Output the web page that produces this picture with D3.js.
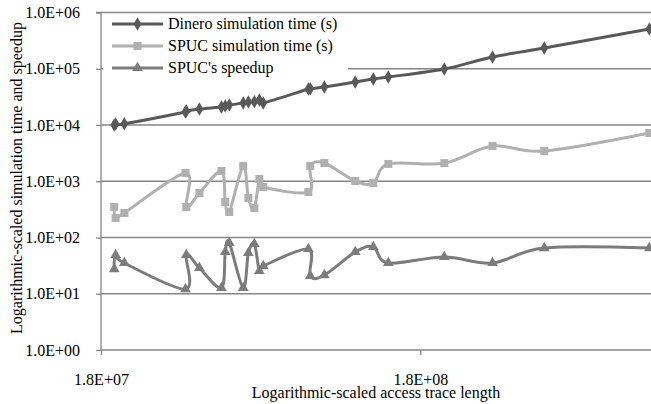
<!DOCTYPE html>
<html><head><meta charset="utf-8">
<script src="https://cdn.jsdelivr.net/npm/d3@7/dist/d3.min.js"></script>
<style>body{margin:0;background:#fff;} svg{display:block;}</style>
</head><body>
<svg id="c" width="651" height="404"></svg>
<script>
// Access trace length (x)
const traceLength = [1.98e7, 2.0e7, 2.13e7, 3.31e7, 3.33e7, 3.66e7, 4.29e7, 4.41e7, 4.54e7, 5.02e7, 5.21e7, 5.44e7,
  5.64e7, 5.80e7, 8.03e7, 8.14e7, 9.01e7, 1.126e8, 1.283e8, 1.429e8, 2.14e8, 3.03e8, 4.40e8, 9.39e8];
// Dinero simulation time (s)
const dineroTime = [10000, 10400, 10500, 17000, 17700, 19200, 20900, 21800, 22700, 24600, 25600, 26000,
  27800, 24600, 43600, 44000, 47400, 58100, 65700, 71300, 99000, 162000, 234000, 509000];
// SPUC simulation time (s)
const spucTime = [349, 222, 273, 1400, 349, 618, 1520, 428, 284, 1870, 504, 334,
  1100, 790, 644, 1870, 2110, 1010, 931, 2030, 2100, 4230, 3450, 7210];
// SPUC's speedup
const spucSpeedup = [27.5, 48.9, 35.2, 12.1, 48.9, 28.7, 12.7, 55.2, 79.8, 12.7, 53, 76.6,
  25.4, 31.1, 62.5, 20.7, 21.5, 55.2, 67.8, 35.2, 45, 35.2, 65, 65];

const yTicks = [1, 10, 100, 1000, 10000, 100000, 1000000];
const yTickLabels = ["1.0E+00", "1.0E+01", "1.0E+02", "1.0E+03", "1.0E+04", "1.0E+05", "1.0E+06"];
const xTicks = [1.8e7, 1.8e8];
const xTickLabels = ["1.8E+07", "1.8E+08"];
const seriesNames = ["Dinero simulation time (s)", "SPUC simulation time (s)", "SPUC's speedup"];

const svg = d3.select("#c");
const font = "'Liberation Serif','Times New Roman',serif";
const L = 101, R = 739.6, T = 12.5, B = 350;
const x = d3.scaleLog().domain([1.8e7, 1.8e9]).range([L, R]);
const y = d3.scaleLog().domain([1, 1e6]).range([B, T]);
const grid = "#868686";

// gridlines
svg.append("g").selectAll("line").data(yTicks.slice(1)).join("line")
  .attr("x1", L).attr("x2", R).attr("y1", d => y(d)).attr("y2", d => y(d))
  .attr("stroke", grid).attr("stroke-width", 1.3);

// y axis
const yAxis = d3.axisLeft(y).tickValues(yTicks).tickSize(5).tickFormat((d, i) => yTickLabels[i]);
const gy = svg.append("g").attr("transform", `translate(${L},0)`).call(yAxis);
gy.select(".domain").attr("stroke", grid).attr("stroke-width", 1.3).attr("d", `M-5,${T}H0V${B}`);
gy.selectAll(".tick line").attr("stroke", grid).attr("stroke-width", 1.3);
gy.selectAll(".tick text").attr("x", -21).attr("font-family", font).attr("font-size", 16).attr("fill", "#000");

// x axis
const xAxis = d3.axisBottom(x).tickValues(xTicks).tickSize(5).tickFormat((d, i) => xTickLabels[i]);
const gx = svg.append("g").attr("transform", `translate(0,${B})`).call(xAxis);
gx.select(".domain").attr("stroke", grid).attr("stroke-width", 1.3).attr("d", `M${L},0H${R}`);
gx.selectAll(".tick line").attr("stroke", grid).attr("stroke-width", 1.3);
gx.selectAll(".tick text").attr("y", 24).attr("font-family", font).attr("font-size", 16).attr("fill", "#000");

// titles
svg.append("text").attr("x", 376).attr("y", 398).attr("text-anchor", "middle")
  .attr("font-family", font).attr("font-size", 16).text("Logarithmic-scaled access trace length");
svg.append("text").attr("transform", `translate(22,178) rotate(-90)`).attr("text-anchor", "middle")
  .attr("font-family", font).attr("font-size", 16).text("Logarithmic-scaled simulation time and speedup");

const series = [
  {name: seriesNames[0], vals: dineroTime, color: "#595959", sym: d3.symbolDiamond, size: 52},
  {name: seriesNames[1], vals: spucTime, color: "#b0b0b0", sym: d3.symbolSquare, size: 64},
  {name: seriesNames[2], vals: spucSpeedup, color: "#7c7c7c", sym: d3.symbolTriangle, size: 50}
];

const line = d3.line().curve(d3.curveCardinal.tension(0)).x(d => x(d[0])).y(d => y(d[1]));

// legend background
svg.append("rect").attr("x", 103).attr("y", 14).attr("width", 245).attr("height", 64).attr("fill", "#fff");

series.forEach(s => {
  const pts = traceLength.map((t, i) => [t, s.vals[i]]);
  svg.append("path").datum(pts).attr("d", line).attr("fill", "none")
    .attr("stroke", s.color).attr("stroke-width", 3).attr("stroke-linejoin", "round");
  svg.append("g").selectAll("path").data(pts).join("path")
    .attr("transform", d => `translate(${x(d[0])},${y(d[1])})`)
    .attr("d", d3.symbol().type(s.sym).size(s.size)).attr("fill", s.color);
});

// legend
series.forEach((s, i) => {
  const ly = 24 + i * 22;
  const g = svg.append("g");
  g.append("line").attr("x1", 112).attr("x2", 163).attr("y1", ly).attr("y2", ly)
    .attr("stroke", s.color).attr("stroke-width", 3);
  g.append("path").attr("transform", `translate(137.5,${ly})`).attr("d", d3.symbol().type(s.sym).size(s.size)).attr("fill", s.color);
  g.append("text").attr("x", 168).attr("y", ly + 5).attr("font-family", font).attr("font-size", 16).text(s.name);
});
</script>
</body></html>
